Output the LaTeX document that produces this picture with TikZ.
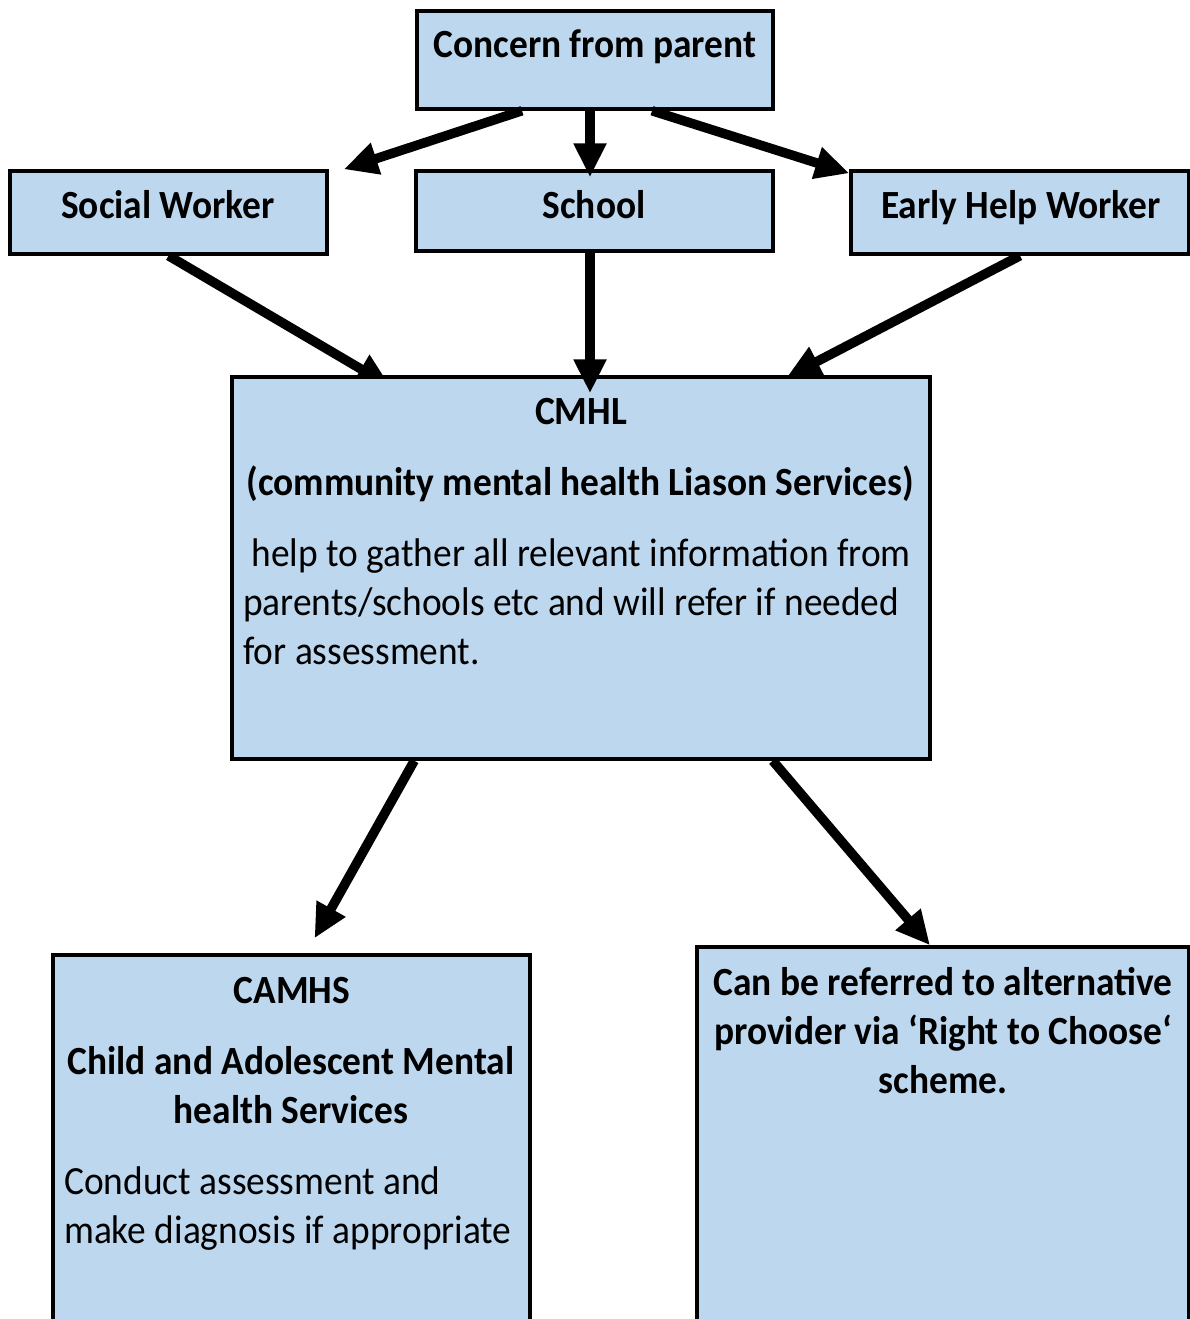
\documentclass[tikz,border=0pt]{standalone}
\usepackage{fontspec}
\setmainfont[FakeStretch=0.935]{Carlito}
\usepackage{tikz}
\usepackage{xcolor}
\usetikzlibrary{arrows.meta,positioning,calc}
\definecolor{boxfill}{HTML}{BDD7EE}
\definecolor{ink}{HTML}{000000}
\pgfdeclarelayer{background}
\pgfsetlayers{background,main}
\tikzset{
  box/.style={draw=ink, fill=boxfill, line width=3.5pt, inner sep=0pt},
  arrow/.style={-{Triangle[length=34pt,width=31pt]}, line width=9.5pt, draw=ink},
  title/.style={font=\fontsize{40}{49}\selectfont\bfseries, align=center, inner sep=0pt, anchor=base},
  body/.style={font=\fontsize{40}{49}\selectfont, align=left, inner sep=0pt, anchor=base west}
}

\begin{document}
\begin{tikzpicture}[x=1pt,y=-1pt]
  \useasboundingbox (0,0) rectangle (1190,1319);
  \clip (0,0) rectangle (1190,1319);

  % boxes
  \node[box,minimum width=356pt,minimum height=98pt] (parent) at (595,60) {};
  \node[box,minimum width=317pt,minimum height=83pt] (social) at (168.5,212.5) {};
  \node[box,minimum width=357pt,minimum height=80pt] (school) at (594.5,211) {};
  \node[box,minimum width=338pt,minimum height=83pt] (early) at (1020,212.5) {};
  \node[box,minimum width=698pt,minimum height=382pt] (cmhl) at (581,568) {};
  \node[box,minimum width=477pt,minimum height=400pt] (camhs) at (291.5,1155) {};
  \node[box,minimum width=492pt,minimum height=400pt] (choose) at (943,1147) {};

  % labels (placed on the baseline of their last line)
  \node[title] (parenttxt) at (595,58) {Concern from parent};
  \node[title] (socialtxt) at (168,218) {Social Worker};
  \node[title] (schooltxt) at (594,218) {School};
  \node[title] (earlytxt) at (1021,218) {Early Help Worker};

  \node[title] (cmhltxt) at (581,424) {CMHL};
  \node[title] (cmhlname) at (580,495) {(community mental health Liason Services)};
  \node[body] (cmhlbody) at (243,664)
    {\ help to gather all relevant information from\\
     parents/schools etc and will refer if needed\\
     for assessment.};

  \node[title] (camhstxt) at (292,1003) {CAMHS};
  \node[title] (camhsname) at (291,1123) {Child and Adolescent Mental\\health Services};
  \node[body] (camhsbody) at (64,1243)
    {Conduct assessment and\\make diagnosis if appropriate};

  \node[title] (choosetxt) at (943,1093)
    {Can be referred to alternative\\provider via ‘Right to Choose‘\\scheme.};

  % connectors
  \draw[arrow] ([xshift=-73pt]parent.south) -- ([xshift=15pt]social.north east);
  \draw[arrow] ([xshift=-5pt]parent.south) -- ([xshift=-4.5pt,yshift=-8pt]school.north);
  \draw[arrow] ([xshift=57pt]parent.south) -- ([yshift=-4pt]early.north west);

  \begin{pgfonlayer}{background}
    \draw[arrow] (social.south) -- ([xshift=160pt,yshift=-11pt]cmhl.north west);
    \draw[arrow] (early.south) -- ([xshift=-145pt,yshift=-2pt]cmhl.north east);
  \end{pgfonlayer}
  \coordinate (cmhlin) at (school.south |- cmhl.north);
  \draw[arrow] ([xshift=-4.5pt]school.south) -- ([xshift=-4.5pt,yshift=-18pt]cmhlin);

  \draw[arrow] ([xshift=184pt]cmhl.south west) -- ([xshift=23pt,yshift=15pt]camhs.north);
  \draw[arrow] ([xshift=-159pt]cmhl.south east) -- ([xshift=-13pt]choose.north);
\end{tikzpicture}
\end{document}
